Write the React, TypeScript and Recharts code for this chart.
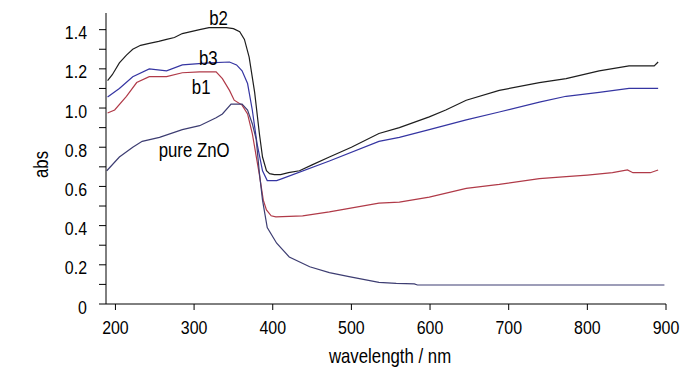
import { LineChart, Line, XAxis, YAxis, ReferenceDot, Label } from 'recharts'

const FONT = '"Liberation Sans", Arial, sans-serif'
const SQUEEZE = 0.84

// b2
const b2Wl = [190, 196, 205, 214, 222, 232, 243, 255, 265, 275, 285, 296, 307, 319, 330, 341, 350, 358, 364, 370, 377, 383, 387, 392, 396, 402, 410, 420, 434, 450, 472, 500, 535, 561, 599, 620, 646, 688, 739, 773, 815, 853, 885, 890]
const b2Abs = [1.14, 1.17, 1.23, 1.27, 1.3, 1.32, 1.33, 1.34, 1.35, 1.36, 1.38, 1.39, 1.4, 1.41, 1.41, 1.41, 1.405, 1.39, 1.35, 1.26, 1.08, 0.87, 0.75, 0.68, 0.665, 0.66, 0.66, 0.67, 0.68, 0.71, 0.75, 0.8, 0.87, 0.9, 0.955, 0.99, 1.04, 1.09, 1.13, 1.15, 1.19, 1.215, 1.215, 1.235]

// b3
const b3Wl = [190, 205, 222, 243, 265, 285, 319, 345, 354, 361, 368, 374, 380, 387, 393, 405, 412, 472, 535, 561, 599, 646, 688, 739, 773, 815, 853, 890]
const b3Abs = [1.056, 1.1, 1.16, 1.2, 1.19, 1.22, 1.23, 1.235, 1.22, 1.19, 1.125, 0.99, 0.82, 0.68, 0.63, 0.63, 0.64, 0.73, 0.83, 0.85, 0.89, 0.94, 0.98, 1.03, 1.06, 1.08, 1.1, 1.1]

// b1
const b1Wl = [190, 199, 214, 227, 243, 265, 285, 307, 328, 336, 345, 351, 361, 368, 374, 380, 383, 388, 392, 398, 404, 438, 472, 535, 561, 599, 646, 688, 739, 773, 800, 832, 851, 858, 880, 890]
const b1Abs = [0.975, 0.99, 1.06, 1.13, 1.16, 1.16, 1.18, 1.185, 1.185, 1.15, 1.09, 1.04, 1.015, 0.97, 0.87, 0.73, 0.66, 0.53, 0.48, 0.45, 0.445, 0.45, 0.47, 0.515, 0.52, 0.545, 0.59, 0.61, 0.64, 0.65, 0.658, 0.67, 0.684, 0.67, 0.67, 0.684]

// pure ZnO
const znoWl = [189, 205, 222, 234, 256, 285, 307, 328, 336, 347, 361, 368, 374, 379, 383, 387, 393, 405, 421, 447, 472, 497, 535, 557, 580, 584, 898]
const znoAbs = [0.68, 0.75, 0.8, 0.83, 0.85, 0.89, 0.91, 0.95, 0.97, 1.02, 1.02, 0.99, 0.92, 0.84, 0.67, 0.53, 0.39, 0.31, 0.24, 0.19, 0.16, 0.14, 0.11, 0.105, 0.103, 0.097, 0.097]

const xTicks = [200, 300, 400, 500, 600, 700, 800, 900]
const yTicks = [0, 0.1, 0.2, 0.3, 0.4, 0.5, 0.6, 0.7, 0.8, 0.9, 1.0, 1.1, 1.2, 1.3, 1.4]

const curveNames = ['b2', 'b3', 'b1', 'pure ZnO']
const labelWl = [331, 318, 309, 300]
const labelAbs = [1.459, 1.257, 1.105, 0.788]

const toPoints = (wl: number[], abs: number[]) => wl.map((w, i) => ({ wl: w, abs: abs[i] }))

const series = [
  { name: 'b2', data: toPoints(b2Wl, b2Abs), color: '#1e1e1e' },
  { name: 'b3', data: toPoints(b3Wl, b3Abs), color: '#3535a2' },
  { name: 'b1', data: toPoints(b1Wl, b1Abs), color: '#b03a48' },
  { name: 'pure ZnO', data: toPoints(znoWl, znoAbs), color: '#3d3d72' },
]

const yFormat = (v: number) => {
  if (Math.round(v * 10) % 2) return ''
  return v === 0 ? '0' : v.toFixed(1)
}

// condensed text, the original uses a narrow sans
function Narrow({ x, y, anchor = 'middle', size = 20, rotate = 0, children }: any) {
  return (
    <g transform={`translate(${x} ${y}) rotate(${rotate}) scale(${SQUEEZE} 1)`}>
      <text x={0} y={0} textAnchor={anchor} fontSize={size} fontFamily={FONT} fill="#000">
        {children}
      </text>
    </g>
  )
}

const XTick = ({ x, y, payload }: any) => (
  <Narrow x={x} y={y + 13.5} size={19}>{payload.value}</Narrow>
)

const YTick = ({ x, y, payload }: any) => (
  <Narrow x={x} y={y + 9.5} size={19} anchor="end">{yFormat(payload.value)}</Narrow>
)

export default function App() {
  return (
    <div style={{ position: 'fixed', left: 0, top: 0, width: 700, height: 373, background: '#fff' }}>
      <LineChart width={700} height={373} margin={{ top: 13, right: 34, bottom: 29, left: 46 }}>
        <XAxis
          type="number"
          dataKey="wl"
          domain={[188, 900]}
          ticks={xTicks}
          allowDataOverflow
          height={40}
          tick={<XTick />}
          tickSize={6}
          tickMargin={10}
          axisLine={{ stroke: '#000' }}
          tickLine={{ stroke: '#000' }}
        >
          <Label
            content={(p: any) => {
              const vb = p.viewBox
              return <Narrow x={vb.x + vb.width / 2 + 4} y={vb.y + 59}>wavelength / nm</Narrow>
            }}
          />
        </XAxis>
        <YAxis
          type="number"
          domain={[0, 1.485]}
          ticks={yTicks}
          width={60}
          interval={0}
          tick={<YTick />}
          tickSize={7}
          tickMargin={12}
          axisLine={{ stroke: '#000' }}
          tickLine={{ stroke: '#000' }}
        >
          <Label
            content={(p: any) => {
              const vb = p.viewBox
              return <Narrow x={vb.x + 2} y={vb.y + vb.height / 2 + 6} rotate={-90}>abs</Narrow>
            }}
          />
        </YAxis>
        {series.map((s) => (
          <Line
            key={s.name}
            data={s.data}
            dataKey="abs"
            type="linear"
            stroke={s.color}
            strokeWidth={1.2}
            dot={false}
            activeDot={false}
            isAnimationActive={false}
          />
        ))}
        {curveNames.map((name, i) => (
          <ReferenceDot
            key={name}
            x={labelWl[i]}
            y={labelAbs[i]}
            ifOverflow="visible"
            shape={(p: any) => <Narrow x={p.cx} y={p.cy + 7}>{name}</Narrow>}
          />
        ))}
      </LineChart>
    </div>
  )
}
